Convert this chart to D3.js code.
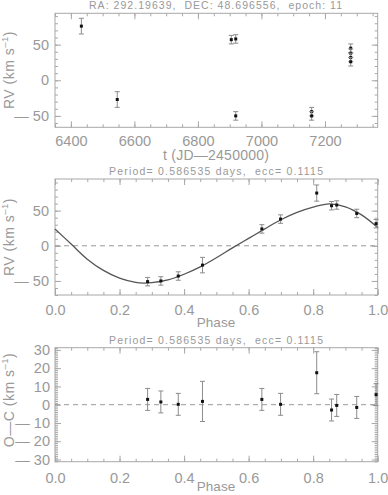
<!DOCTYPE html>
<html><head><meta charset="utf-8">
<script src="https://cdn.jsdelivr.net/npm/d3@7"></script>
<style>
body{margin:0;background:#fff}
svg{display:block}
text{font-family:"Liberation Sans",Arial,sans-serif;fill:#999;white-space:pre}
</style>
</head><body>
<svg id="c" width="388" height="495"></svg>
<script>
// ---- data ----
const timeJD   = [6433, 6546, 6905, 6919, 6919, 7158, 7158, 7281, 7281, 7281, 7281];
const rvTime   = [76, -27, 57, 58, -50, -44, -50, 45, 38, 32, 26];
const errTime  = [11, 11, 6, 6, 6, 6, 6, 6, 6, 6, 6];

const phase    = [0.287, 0.328, 0.382, 0.457, 0.641, 0.699, 0.811, 0.857, 0.873, 0.935, 0.995];
const rvPhase  = [-51, -50, -43, -27.5, 24, 38, 75, 57, 58, 46, 31.5];
const errPhase = [6, 6, 6, 11, 6, 6, 11.5, 6, 6, 6, 6];
const ocPhase  = [2.9, 1.5, 0.2, 1.8, 2.9, 0.2, 17.5, -2.9, -0.4, -1.5, 5.5];

const modelPhase = [0, 0.05, 0.10, 0.15, 0.20, 0.25, 0.275, 0.30, 0.35, 0.40, 0.45, 0.50, 0.55, 0.60, 0.65, 0.70, 0.75, 0.80, 0.85, 0.90, 0.95, 1.0];
const modelRV    = [24, 2.5, -19, -35, -46, -52, -53, -52.5, -48.5, -40.5, -30, -17, -3, 10.5, 24, 37, 47.5, 55, 59.5, 55.5, 44, 26];

const timeTicks  = [6400, 6600, 6800, 7000, 7200];
const rvTicks    = [-50, 0, 50];
const phaseTicks = [0, 0.2, 0.4, 0.6, 0.8, 1.0];
const ocTicks    = [-30, -20, -10, 0, 10, 20, 30];

const titleText  = "RA: 292.19639,  DEC: 48.696556,  epoch: 11";
const periodText = "Period= 0.586535 days,  ecc= 0.1115";

// ---- drawing ----
const svg = d3.select("#c");
const L = 55, R = 377.7;
const AX = "#a8a8a8";
const DASH = "\u2014";
const neg = d => d < 0 ? DASH + " " + String(-d) : String(d);

function panel(o) {
  const x = d3.scaleLinear().domain(o.xd).range([L, R]);
  const y = d3.scaleLinear().domain(o.yd).range([o.bot, o.top]);
  const g = svg.append("g");
  const add = (axis, tr) => {
    const a = g.append("g").attr("transform", tr).call(axis);
    a.select(".domain").remove();
    a.selectAll("line").attr("stroke", AX);
    a.selectAll("text").attr("fill", "#999").attr("font-size", 14.5)
      .attr("font-family", '"Liberation Sans",Arial,sans-serif').style("white-space", "pre");
    return a;
  };
  const xm = d3.range(Math.ceil(o.xd[0] / o.xm - 1e-9), Math.floor(o.xd[1] / o.xm + 1e-9) + 1).map(k => +(k * o.xm).toFixed(6));
  const ym = d3.range(Math.ceil(o.yd[0] / o.ymStep - 1e-9), Math.floor(o.yd[1] / o.ymStep + 1e-9) + 1).map(k => k * o.ymStep);
  add(d3.axisBottom(x).tickValues(o.xt).tickSize(-6).tickPadding(o.xpad).tickFormat(o.xfmt), `translate(0,${o.bot})`);
  add(d3.axisBottom(x).tickValues(xm).tickSize(-3).tickFormat(""), `translate(0,${o.bot})`);
  add(d3.axisTop(x).tickValues(o.xt).tickSize(-6).tickFormat(""), `translate(0,${o.top})`);
  add(d3.axisTop(x).tickValues(xm).tickSize(-3).tickFormat(""), `translate(0,${o.top})`);
  add(d3.axisLeft(y).tickValues(o.yt).tickSize(-6).tickPadding(o.ypad).tickFormat(neg), `translate(${L},0)`);
  add(d3.axisLeft(y).tickValues(ym).tickSize(-3).tickFormat(""), `translate(${L},0)`);
  add(d3.axisRight(y).tickValues(o.yt).tickSize(-6).tickFormat(""), `translate(${R},0)`);
  add(d3.axisRight(y).tickValues(ym).tickSize(-3).tickFormat(""), `translate(${R},0)`);
  g.append("rect").attr("x", L).attr("y", o.top).attr("width", R - L).attr("height", o.bot - o.top)
    .attr("fill", "none").attr("stroke", AX).attr("stroke-width", 1);
  return {x, y, g};
}

function errorbars(p, xs, ys, es) {
  const g = p.g.append("g");
  xs.forEach((xv, i) => {
    const cx = p.x(xv), y1 = p.y(ys[i] - es[i]), y2 = p.y(ys[i] + es[i]);
    g.append("line").attr("x1", cx).attr("x2", cx).attr("y1", y1).attr("y2", y2).attr("stroke", "#8c8c8c").attr("stroke-width", 1);
    [y1, y2].forEach(yy => g.append("line").attr("x1", cx - 2.5).attr("x2", cx + 2.5).attr("y1", yy).attr("y2", yy).attr("stroke", "#8c8c8c").attr("stroke-width", 1));
    g.append("rect").attr("x", cx - 1.5).attr("y", p.y(ys[i]) - 1.5).attr("width", 3).attr("height", 3).attr("fill", "#111");
  });
}

function ylabel(text, cy) {
  const t = svg.append("text").attr("transform", `translate(14,${cy}) rotate(-90)`)
    .attr("text-anchor", "middle").attr("font-size", 14).attr("letter-spacing", 0.5);
  t.append("tspan").text(text + " (km s");
  t.append("tspan").attr("font-size", 9.5).attr("dy", -6).text("\u2013" + "1");
  t.append("tspan").attr("dy", 6).text(")");
}

function centerText(str, x, y, size, len) {
  const t = svg.append("text").attr("x", x).attr("y", y).attr("text-anchor", "middle").attr("font-size", size).text(str);
  if (len) t.attr("textLength", len).attr("lengthAdjust", "spacing");
  return t;
}

function zeroLine(p) {
  p.g.append("line").attr("x1", L).attr("x2", R).attr("y1", p.y(0)).attr("y2", p.y(0))
    .attr("stroke", "#999").attr("stroke-width", 1).attr("stroke-dasharray", "5,4");
}

// Panel 1: RV vs time
centerText(titleText, 215.5, 9, 10.5, 253);
const p1 = panel({xd: [6350, 7366], yd: [-66, 94], top: 13.3, bot: 127.3, xt: timeTicks, xm: 50, yt: rvTicks, ymStep: 10, xpad: 8, ypad: 6, xfmt: d3.format("d")});
errorbars(p1, timeJD, rvTime, errTime);
centerText("t (JD" + DASH + "2450000)", 216, 160, 14, 106);
ylabel("RV", 70);

// Panel 2: RV vs phase
centerText(periodText, 216, 175, 10.5, 214);
const p2 = panel({xd: [0, 1], yd: [-70, 95], top: 179, bot: 295, xt: phaseTicks, xm: 0.05, yt: rvTicks, ymStep: 10, xpad: 10, ypad: 6, xfmt: d3.format(".1f")});
zeroLine(p2);
p2.g.append("path").datum(modelPhase.map((v, i) => [v, modelRV[i]]))
  .attr("d", d3.line().x(d => p2.x(d[0])).y(d => p2.y(d[1])).curve(d3.curveCatmullRom.alpha(0.5)))
  .attr("fill", "none").attr("stroke", "#555").attr("stroke-width", 1.3);
errorbars(p2, phase, rvPhase, errPhase);
centerText("Phase", 216, 327, 13.5);
ylabel("RV", 237);

// Panel 3: O-C vs phase
centerText(periodText, 216, 344, 10.5, 214);
const p3 = panel({xd: [0, 1], yd: [-31.2, 31.2], top: 347.7, bot: 461.7, xt: phaseTicks, xm: 0.05, yt: ocTicks, ymStep: 1, xpad: 11, ypad: 5, xfmt: d3.format(".1f")});
zeroLine(p3);
errorbars(p3, phase, ocPhase, errPhase);
centerText("Phase", 216, 491, 13.5);
ylabel("O" + DASH + "C", 400);
</script>
</body></html>
